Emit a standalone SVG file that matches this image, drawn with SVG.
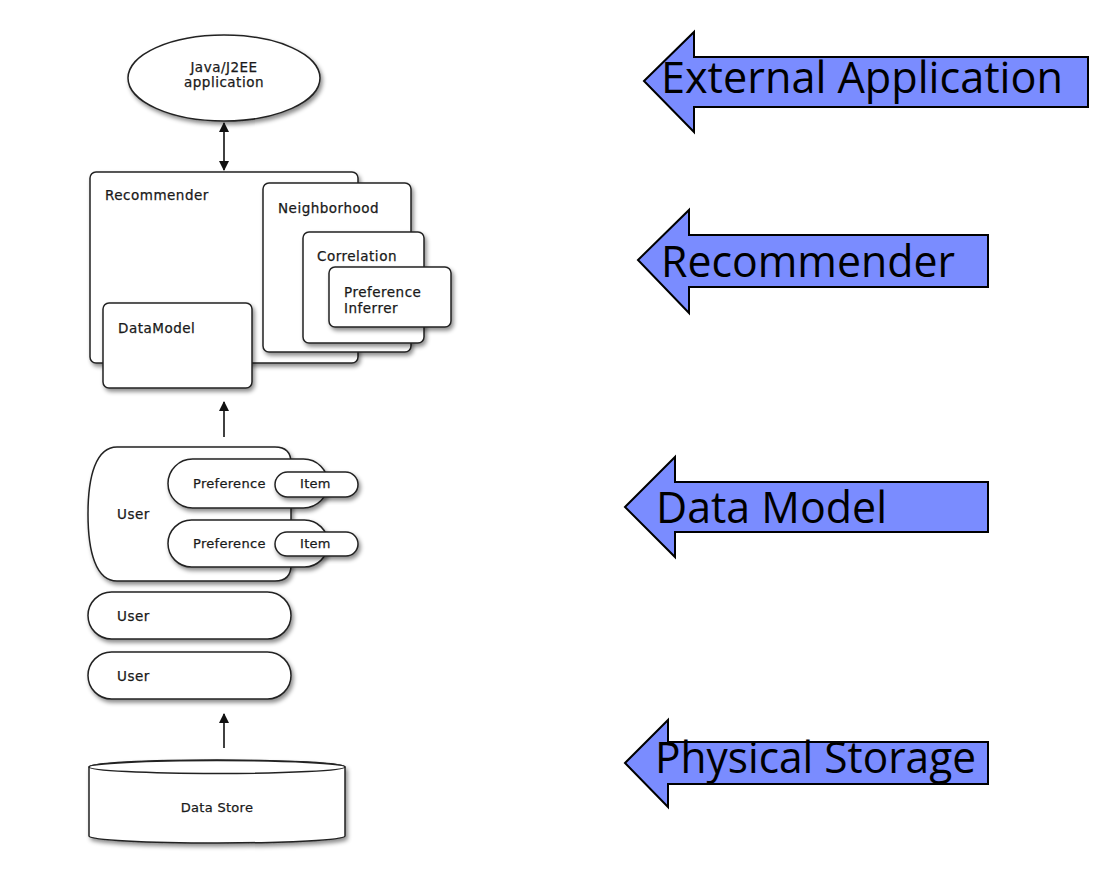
<svg xmlns="http://www.w3.org/2000/svg" width="1108" height="879" viewBox="0 0 1108 879">
<style>
.box{fill:#fff;stroke:#222;stroke-width:1.5}
.lbl{font-family:"DejaVu Sans",sans-serif;font-size:13.5px;letter-spacing:0.5px;fill:#1a1a1a;stroke:#1a1a1a;stroke-width:0.25}
.sm{font-size:13px;letter-spacing:0.3px}
.big{fill:#7a8cff;stroke:#000;stroke-width:2}
.bigt{font-family:"Open Sans",sans-serif;font-size:43px;fill:#000}
.con{stroke:#111;stroke-width:1.6;fill:none}
</style>
<defs>
<filter id="sh" x="-10%" y="-10%" width="130%" height="140%">
<feDropShadow dx="2" dy="3" stdDeviation="2.2" flood-color="#000" flood-opacity="0.45"/>
</filter>
<marker id="ah" viewBox="0 0 10 10" refX="9" refY="5" markerWidth="10" markerHeight="12" markerUnits="userSpaceOnUse" orient="auto-start-reverse">
<path d="M0,0 L10,5 L0,10 Z" fill="#111"/>
</marker>
</defs>
<rect width="1108" height="879" fill="#fff"/>

<g id="java-app">
<ellipse class="box" cx="224" cy="78" rx="96" ry="43" filter="url(#sh)"/>
<text class="lbl" x="224" y="72" text-anchor="middle">Java/J2EE</text>
<text class="lbl" x="224" y="87" text-anchor="middle">application</text>
</g>

<g id="recommender">
<rect class="box" x="90" y="172" width="268" height="191" rx="6" filter="url(#sh)"/>
<text class="lbl" x="105" y="200">Recommender</text>
</g>
<g id="neighborhood">
<rect class="box" x="263" y="183" width="148" height="169" rx="6" filter="url(#sh)"/>
<text class="lbl" x="278" y="213">Neighborhood</text>
</g>
<g id="correlation">
<rect class="box" x="303" y="232" width="121" height="111" rx="6" filter="url(#sh)"/>
<text class="lbl" x="317" y="261">Correlation</text>
</g>
<g id="pref-inferrer">
<rect class="box" x="329" y="267" width="122" height="60" rx="6" filter="url(#sh)"/>
<text class="lbl" x="344" y="297">Preference</text>
<text class="lbl" x="344" y="313">Inferrer</text>
</g>
<g id="datamodel">
<rect class="box" x="103" y="303" width="149" height="85" rx="6" filter="url(#sh)"/>
<text class="lbl" x="118" y="333" stroke-width="0.6">DataModel</text>
</g>

<g id="user1">
<path class="box" filter="url(#sh)" d="M117,447 H275 Q291,447 291,463 V565 Q291,581 275,581 H117 C96,581 88,552 88,514 C88,476 96,447 117,447 Z"/>
<text class="lbl" x="117" y="519">User</text>
</g>
<g id="pref1">
<rect class="box" x="168" y="459" width="160" height="49" rx="24.5" filter="url(#sh)"/>
<text class="lbl sm" x="193" y="488">Preference</text>
</g>
<g id="item1">
<rect class="box" x="275" y="472" width="83" height="25" rx="12.5" filter="url(#sh)"/>
<text class="lbl sm" x="300" y="488">Item</text>
</g>
<g id="pref2">
<rect class="box" x="168" y="520" width="160" height="47" rx="23.5" filter="url(#sh)"/>
<text class="lbl sm" x="193" y="548">Preference</text>
</g>
<g id="item2">
<rect class="box" x="275" y="532" width="83" height="24" rx="12" filter="url(#sh)"/>
<text class="lbl sm" x="300" y="548">Item</text>
</g>
<g id="user2">
<rect class="box" x="88" y="592" width="203" height="47" rx="23.5" filter="url(#sh)"/>
<text class="lbl" x="117" y="621">User</text>
</g>
<g id="user3">
<rect class="box" x="88" y="652" width="203" height="47" rx="23.5" filter="url(#sh)"/>
<text class="lbl" x="117" y="681">User</text>
</g>

<g id="datastore">
<path class="box" filter="url(#sh)" d="M89,767 V836 A128,7 0 0 0 345,836 V767 A128,7 0 0 0 89,767 Z"/>
<ellipse class="box" cx="217" cy="767" rx="128" ry="6.5"/>
<text class="lbl sm" x="217" y="812" text-anchor="middle">Data Store</text>
</g>

<g id="connectors">
<line class="con" x1="224" y1="123" x2="224" y2="170" marker-start="url(#ah)" marker-end="url(#ah)"/>
<line class="con" x1="224" y1="437" x2="224" y2="402" marker-end="url(#ah)"/>
<line class="con" x1="224" y1="748" x2="224" y2="714" marker-end="url(#ah)"/>
</g>

<g id="arrow-external">
<polygon class="big" points="644,81 694,32 694,57 1088,57 1088,107 694,107 694,132"/>
<text class="bigt" x="661" y="93" textLength="402" lengthAdjust="spacingAndGlyphs">External Application</text>
</g>
<g id="arrow-recommender">
<polygon class="big" points="638,260 689,210 689,235 988,235 988,287 689,287 689,313"/>
<text class="bigt" x="661" y="277" textLength="294" lengthAdjust="spacingAndGlyphs">Recommender</text>
</g>
<g id="arrow-datamodel">
<polygon class="big" points="625,507 675,457 675,482 988,482 988,532 675,532 675,557"/>
<text class="bigt" x="656" y="523" textLength="231" lengthAdjust="spacingAndGlyphs">Data Model</text>
</g>
<g id="arrow-storage">
<polygon class="big" points="625,763 668,720 668,742 988,742 988,784 668,784 668,807"/>
<text class="bigt" x="655" y="773" textLength="321" lengthAdjust="spacingAndGlyphs">Physical Storage</text>
</g>
</svg>
